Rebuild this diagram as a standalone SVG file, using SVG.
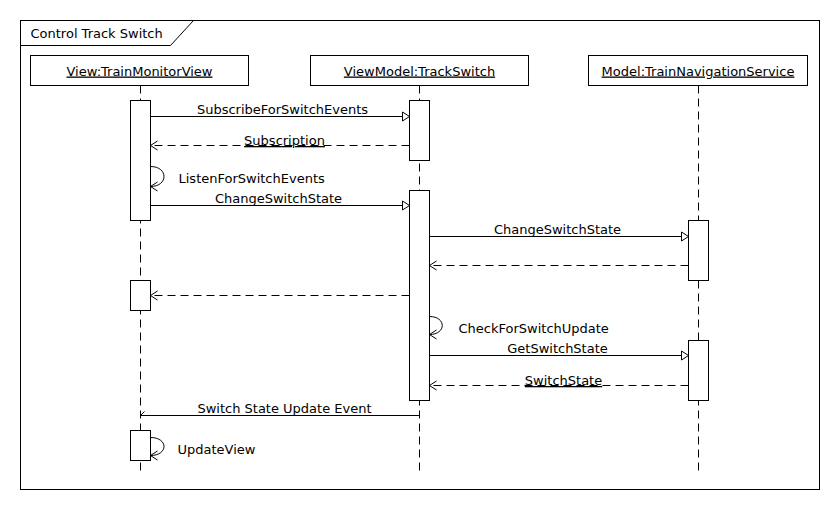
<svg xmlns="http://www.w3.org/2000/svg" width="840" height="510" viewBox="0 0 840 510">
<style>
  text { font-family: "DejaVu Sans", "Liberation Sans", sans-serif; font-size: 13px; fill: #000; }
  .hdr { text-anchor: middle; text-decoration: underline; }
  .lbl { text-anchor: middle; }
  .ul { text-decoration: underline; }
  .box { fill: #fff; stroke: #000; stroke-width: 1; }
  .life { fill: none; stroke: #000; stroke-width: 1; stroke-dasharray: 8 5; }
  .act { fill: #fff; stroke: #000; stroke-width: 1; }
  .msg { fill: none; stroke: #000; stroke-width: 1; marker-end: url(#tri); }
  .ret { fill: none; stroke: #000; stroke-width: 1; stroke-dasharray: 8 5; marker-end: url(#open); }
  .self { fill: none; stroke: #000; stroke-width: 1; marker-end: url(#open); }
  .plain { fill: none; stroke: #000; stroke-width: 1; }
</style>
<defs>
  <marker id="tri" viewBox="-1 -1 10 11" refX="7" refY="4.5" markerWidth="10" markerHeight="11" markerUnits="userSpaceOnUse" orient="auto">
    <path d="M0,0 L7,4.5 L0,9 Z" fill="#fff" stroke="#000" stroke-width="1"/>
  </marker>
  <marker id="open" viewBox="-1 -1 10 11" refX="7" refY="4.5" markerWidth="10" markerHeight="11" markerUnits="userSpaceOnUse" orient="auto">
    <path d="M0,0 L7,4.5 L0,9" fill="none" stroke="#000" stroke-width="1"/>
  </marker>
</defs>
<rect width="840" height="510" fill="#fff"/>
<g transform="translate(0.5 0.5)">
  <g id="frame">
    <rect x="20" y="20" width="799" height="469" fill="none" stroke="#000" stroke-width="1"/>
    <path class="plain" d="M20,45 L170,45 L193,20"/>
    <text x="30" y="37">Control Track Switch</text>
  </g>

  <g id="view">
    <line class="life" x1="140" y1="85" x2="140" y2="473"/>
    <rect class="box" x="30" y="55" width="218" height="30"/>
    <text class="hdr" x="139" y="75">View:TrainMonitorView</text>
    <rect class="act" x="130" y="100" width="20" height="120"/>
    <rect class="act" x="130" y="280" width="20" height="30"/>
    <rect class="act" x="130" y="430" width="20" height="30"/>
  </g>

  <g id="viewmodel">
    <line class="life" x1="419" y1="85" x2="419" y2="473"/>
    <rect class="box" x="310" y="55" width="218" height="30"/>
    <text class="hdr" x="419" y="75">ViewModel:TrackSwitch</text>
    <rect class="act" x="409" y="100" width="20" height="60"/>
    <rect class="act" x="409" y="190" width="20" height="210"/>
  </g>

  <g id="model">
    <line class="life" x1="698" y1="85" x2="698" y2="473"/>
    <rect class="box" x="588" y="55" width="219" height="30"/>
    <text class="hdr" x="697.5" y="75">Model:TrainNavigationService</text>
    <rect class="act" x="688" y="220" width="20" height="60"/>
    <rect class="act" x="688" y="340" width="20" height="60"/>
  </g>

  <g id="connectors">
    <path class="msg" d="M150,116 L409,116"/>
    <text class="lbl" x="282" y="113">SubscribeForSwitchEvents</text>

    <path class="ret" d="M409,145 L150,145"/>
    <text class="lbl ul" x="284" y="144.5">Subscription</text>

    <path class="self" d="M150,166 C168,166 168,186 150,186"/>
    <text x="178" y="182">ListenForSwitchEvents</text>

    <path class="msg" d="M150,205 L409,205"/>
    <text class="lbl" x="278" y="202">ChangeSwitchState</text>

    <path class="msg" d="M429,236 L688,236"/>
    <text class="lbl" x="557" y="233">ChangeSwitchState</text>

    <path class="ret" d="M688,265 L429,265"/>

    <path class="ret" d="M409,295 L150,295"/>

    <path class="self" d="M429,316 C446,316 446,334 429,334"/>
    <text x="458" y="332">CheckForSwitchUpdate</text>

    <path class="msg" d="M429,355 L688,355"/>
    <text class="lbl" x="557" y="352">GetSwitchState</text>

    <path class="ret" d="M688,385 L429,385"/>
    <text class="lbl ul" x="563" y="384.5">SwitchState</text>

    <path class="plain" d="M419,415 L140,415 M140,415 L144,411"/>
    <text class="lbl" x="284" y="412">Switch State Update Event</text>

    <path class="self" d="M150,437 C168,437 168,455 150,455"/>
    <text x="177" y="453">UpdateView</text>
  </g>
</g>
</svg>
